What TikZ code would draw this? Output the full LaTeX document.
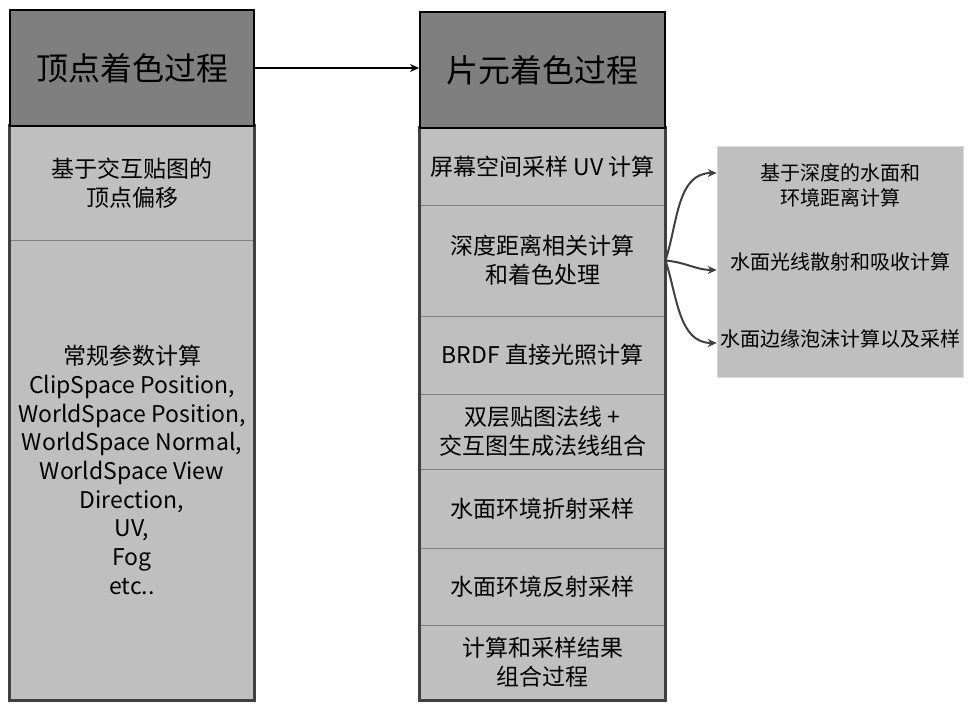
\documentclass[tikz,border=0pt]{standalone}
\usepackage{fontspec}
\setmainfont{Noto Sans CJK SC}
\usepackage{xcolor}
\usetikzlibrary{arrows.meta, positioning}

\definecolor{hdrgray}{HTML}{7F7F7F}
\definecolor{cellgray}{HTML}{BFBFBF}
\definecolor{framegray}{HTML}{404040}

\begin{document}
\begin{tikzpicture}[
        x=1pt, y=-1pt,
        font=\fontsize{23}{28.7}\selectfont,
        >={Stealth[length=9pt,width=8pt]},
        hdr/.style={
            draw=black,
            fill=hdrgray,
            line width=2pt,
            align=center,
            inner sep=0pt,
            font=\fontsize{32}{36}\selectfont
        },
        cell/.style={
            draw=hdrgray,
            fill=cellgray,
            line width=1pt,
            align=center,
            inner sep=0pt
        },
        frame/.style={draw=framegray, line width=2.5pt},
        branch/.style={->, draw=framegray, line width=2pt}
    ]

        \useasboundingbox (0,0) rectangle (974,709);

        % vertex shading column
        \node[cell, minimum width=244pt, minimum height=114pt] (vc1) at (132, 183)
            {基于交互贴图的\\顶点偏移};
        \node[cell, minimum width=244pt, minimum height=460pt] (vc2) at (132, 470)
            {常规参数计算\\ClipSpace Position,\\WorldSpace Position,\\WorldSpace Normal,\\WorldSpace View\\Direction,\\UV,\\Fog\\etc..};
        \draw[frame] (vc1.north west) rectangle (vc2.south east);
        \node[hdr, minimum width=244pt, minimum height=116pt] (vhead) at (132, 68) {顶点着色过程};

        % fragment shading column
        \node[cell, minimum width=245pt, minimum height=77pt]  (fc1) at (542.5, 166.5) {屏幕空间采样 UV 计算};
        \node[cell, minimum width=245pt, minimum height=111pt] (fc2) at (542.5, 260.5) {深度距离相关计算\\和着色处理};
        \node[cell, minimum width=245pt, minimum height=78pt]  (fc3) at (542.5, 355)   {BRDF 直接光照计算};
        \node[cell, minimum width=245pt, minimum height=75pt]  (fc4) at (542.5, 431.5) {双层贴图法线 +\\交互图生成法线组合};
        \node[cell, minimum width=245pt, minimum height=79pt]  (fc5) at (542.5, 508.5) {水面环境折射采样};
        \node[cell, minimum width=245pt, minimum height=77pt]  (fc6) at (542.5, 586.5) {水面环境反射采样};
        \node[cell, minimum width=245pt, minimum height=75pt]  (fc7) at (542.5, 662.5) {计算和采样结果\\组合过程};
        \draw[frame] (fc1.north west) rectangle (fc7.south east);
        \node[hdr, minimum width=245pt, minimum height=116pt] (fhead) at (542.5, 70) {片元着色过程};

        % depth details
        \node[draw=cellgray!60, fill=cellgray, line width=0.6pt, minimum width=246pt, minimum height=231pt] (detail) at (840, 261.5) {};
        \node (d1) at (840, 185) [align=center, font=\fontsize{20}{25}\selectfont] {基于深度的水面和\\环境距离计算};
        \node (d2) at (840, 262) [font=\fontsize{20}{25}\selectfont] {水面光线散射和吸收计算};
        \node (d3) at (840, 339) [font=\fontsize{20}{25}\selectfont] {水面边缘泡沫计算以及采样};

        \coordinate (t1) at (detail.west |- 0, 173);
        \coordinate (t2) at (detail.west |- 0, 270);
        \coordinate (t3) at (detail.west |- 0, 343);

        \draw[->, line width=2pt] (vhead.east) -- (vhead.east -| fhead.west);

        \draw[branch] (fc2.east) to[out=72, in=180] (t1);
        \draw[branch] (fc2.east) to[out=-5, in=180] (t2);
        \draw[branch] (fc2.east) to[out=-72, in=180] (t3);

    \end{tikzpicture}
\end{document}
